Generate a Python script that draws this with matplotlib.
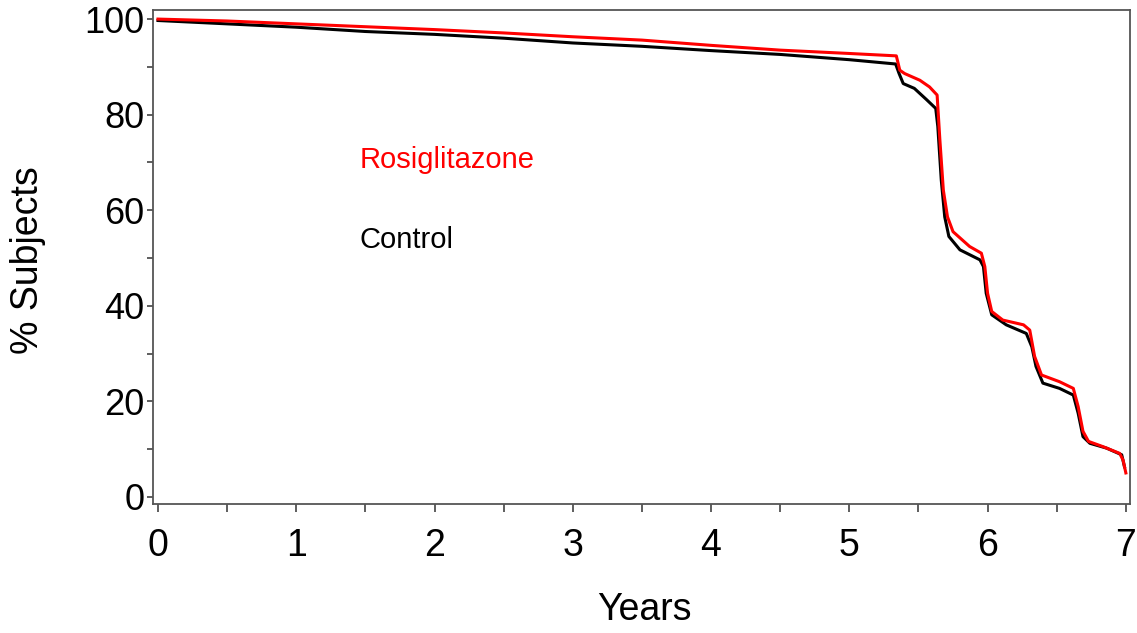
import matplotlib.pyplot as plt
from matplotlib.ticker import MultipleLocator

plt.rcParams["font.family"] = ["Liberation Sans", "DejaVu Sans"]

# Rosiglitazone curve (years, % subjects)
rosi_years = [0.0, 0.5, 1.0, 1.5, 2.0, 2.5, 3.0, 3.5, 4.0, 4.5, 5.0, 5.34,
              5.365, 5.40, 5.51, 5.58, 5.635, 5.655, 5.68, 5.71, 5.75, 5.87,
              5.955, 5.98, 6.00, 6.03, 6.11, 6.26, 6.305, 6.34, 6.39, 6.52,
              6.62, 6.655, 6.69, 6.73, 6.835, 6.955, 6.98, 7.0]
rosi_pct = [100.0, 99.6, 99.0, 98.4, 97.8, 97.1, 96.3, 95.6, 94.5, 93.5, 92.8, 92.3,
            89.3, 88.6, 87.2, 85.8, 84.1, 74.7, 64.2, 58.6, 55.5, 52.4,
            51.0, 48.2, 42.6, 38.8, 37.0, 36.0, 34.9, 29.4, 25.5, 24.1,
            22.7, 18.9, 13.7, 11.6, 10.5, 9.1, 7.7, 5.0]

# Control curve
ctrl_years = [0.0, 0.5, 1.0, 1.5, 2.0, 2.5, 3.0, 3.5, 4.0, 4.5, 5.0, 5.335,
              5.36, 5.39, 5.47, 5.56, 5.625, 5.64, 5.665, 5.69, 5.72, 5.80,
              5.945, 5.97, 5.99, 6.03, 6.135, 6.28, 6.32, 6.35, 6.40, 6.52,
              6.62, 6.655, 6.69, 6.74, 6.86, 6.97, 6.99]
ctrl_pct = [99.7, 99.0, 98.3, 97.4, 96.8, 96.0, 95.0, 94.3, 93.4, 92.6, 91.5, 90.6,
            88.6, 86.5, 85.5, 83.1, 81.3, 77.5, 66.3, 58.6, 54.5, 51.7,
            49.6, 48.2, 42.6, 38.1, 36.0, 34.2, 31.4, 27.3, 23.8, 22.7,
            21.3, 17.5, 12.6, 11.2, 10.2, 8.8, 6.3]

fig = plt.figure(figsize=(11.37, 6.33), dpi=100)
ax = fig.add_axes([153 / 1137, 1 - 504 / 633, 977 / 1137, 494 / 633])

ax.plot(ctrl_years, ctrl_pct, color="black", linewidth=2.2)
ax.plot(rosi_years, rosi_pct, color="#ff0000", linewidth=2.2)

ax.set_xlim(-0.036, 7.03)
ax.set_ylim(-1.5, 101.9)
ax.xaxis.set_major_locator(MultipleLocator(1))
ax.xaxis.set_minor_locator(MultipleLocator(0.5))
ax.yaxis.set_major_locator(MultipleLocator(20))
ax.yaxis.set_minor_locator(MultipleLocator(10))
ax.tick_params(axis="x", which="both", length=5.5, width=1.1, color="#333333")
ax.tick_params(axis="y", which="both", length=4, width=1.1, color="#333333")
ax.tick_params(axis="x", which="major", labelsize=27, pad=12)
ax.tick_params(axis="y", which="major", labelsize=26, pad=2)
for sp in ax.spines.values():
    sp.set_color("#555555")
    sp.set_linewidth(1.3)

fig.text(644 / 1137, 1 - 620 / 633, "Years", fontsize=27, ha="center", va="baseline")
fig.text(28.5 / 1137, 1 - 260 / 633, "% Subjects", fontsize=27, rotation=90,
         ha="center", va="center")

ax.text(1.455, 68.8, "Rosiglitazone", color="#ff0000", fontsize=21, va="baseline")
ax.text(1.455, 52.1, "Control", color="black", fontsize=21, va="baseline")

plt.savefig("out.png", dpi=100)
